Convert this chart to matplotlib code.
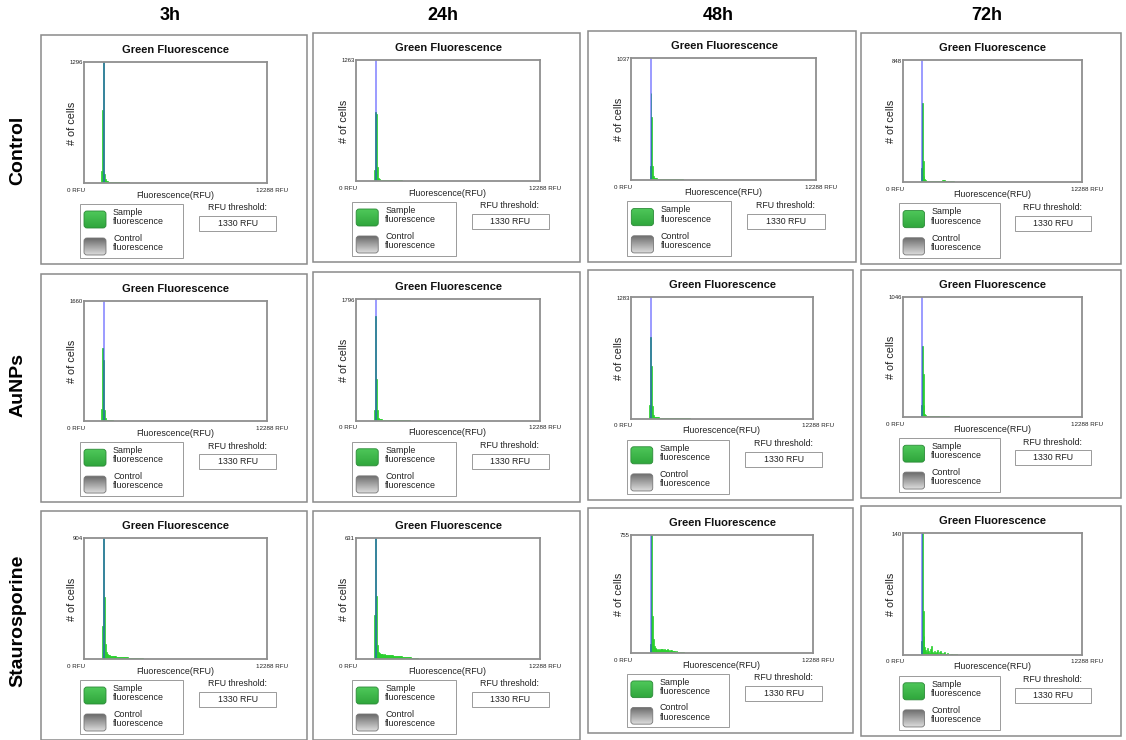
import numpy as np
import matplotlib
matplotlib.use('Agg')
import matplotlib.pyplot as plt
from matplotlib.patches import Rectangle, FancyBboxPatch
from matplotlib import colors as mcolors

plt.rcParams['font.family'] = ['Liberation Sans', 'DejaVu Sans']

# ---------------- data ----------------
timepoints = ['3h', '24h', '48h', '72h']
treatments = ['Control', 'AuNPs', 'Staurosporine']
y_max_counts = [[1296, 1263, 1037, 848],
                [1660, 1796, 1283, 1046],
                [904, 631, 755, 140]]
threshold_rfu = 1330
x_max_rfu = 12288
bin_start_rfu = 1088
bin_width_rfu = 64

control_3h = [0, 130, 780, 1296, 100, 42, 24, 18, 15, 14, 13, 12, 12, 11, 11, 10, 10, 10, 9, 9, 9, 8, 8, 8, 7, 7, 7, 6, 6, 6, 5, 5, 5, 5, 4, 4, 4, 4, 3, 3, 3, 3, 2, 2, 2, 2, 1, 1]
control_24h = [0, 0, 120, 720, 700, 150, 32, 18, 14, 13, 12, 12, 11, 11, 10, 10, 10, 9, 9, 9, 8, 8, 8, 7, 7, 7, 7, 6, 6, 6, 6, 5, 5, 5, 5, 4, 4, 4, 4, 3, 3, 3, 3, 2, 2, 2, 2, 1, 1, 1]
control_48h = [0, 0, 120, 740, 540, 125, 35, 22, 18, 16, 15, 14, 14, 13, 13, 12, 12, 12, 11, 11, 11, 10, 10, 10, 10, 9, 9, 9, 9, 8, 8, 8, 8, 7, 7, 7, 7, 6, 6, 6, 6, 5, 5, 5, 5, 4, 4, 4, 3, 3, 3, 2, 2, 2, 1, 1]
control_72h = [0, 0, 100, 550, 150, 45, 20, 14, 12, 11, 10, 10, 10, 9, 9, 10, 11, 12, 11, 10, 10, 9, 9, 10, 12, 14, 15, 13, 12, 10, 9, 8, 8, 9, 8, 7, 6, 6, 5, 5, 5, 4, 4, 4, 3, 3, 3, 2, 2, 2, 1, 1]
aunps_3h = [0, 170, 1010, 850, 150, 40, 22, 17, 15, 14, 13, 12, 12, 11, 11, 10, 10, 9, 9, 9, 8, 8, 8, 7, 7, 7, 6, 6, 6, 5, 5, 5, 4, 4, 4, 3, 3, 3, 2, 2, 2, 1, 1]
aunps_24h = [0, 0, 160, 1540, 620, 160, 38, 24, 19, 17, 16, 15, 14, 13, 13, 12, 12, 11, 11, 10, 10, 9, 9, 9, 8, 8, 8, 7, 7, 6, 6, 6, 5, 5, 4, 4, 4, 3, 3, 2, 2, 2, 1, 1]
aunps_48h = [0, 0, 140, 860, 560, 130, 35, 22, 17, 15, 14, 13, 13, 12, 12, 11, 11, 11, 10, 10, 10, 9, 9, 9, 8, 8, 8, 7, 7, 7, 6, 6, 6, 5, 5, 5, 4, 4, 4, 3, 3, 3, 2, 2, 2, 1, 1]
aunps_72h = [0, 0, 110, 620, 380, 110, 30, 18, 14, 13, 12, 12, 11, 11, 11, 10, 10, 11, 12, 13, 12, 11, 10, 10, 9, 9, 10, 11, 10, 9, 8, 8, 7, 7, 6, 6, 5, 5, 4, 4, 3, 3, 3, 2, 2, 2, 1, 1]
stauro_3h = [0, 0, 250, 904, 460, 110, 55, 38, 32, 28, 26, 24, 22, 21, 20, 20, 19, 18, 18, 17, 16, 16, 15, 15, 14, 14, 13, 12, 12, 11, 11, 10, 10, 9, 9, 8, 8, 7, 7, 6, 6, 5, 5, 4, 4, 3, 3, 2, 2, 1]
stauro_24h = [0, 0, 230, 631, 330, 75, 38, 30, 27, 25, 24, 23, 24, 22, 22, 21, 22, 20, 20, 19, 20, 18, 18, 17, 17, 16, 16, 15, 15, 14, 14, 13, 12, 12, 11, 10, 10, 9, 8, 8, 7, 6, 6, 5, 4, 4, 3, 3, 2, 2, 1, 1]
stauro_48h = [0, 0, 0, 60, 755, 235, 90, 50, 32, 26, 30, 24, 28, 22, 27, 25, 30, 22, 26, 20, 24, 28, 22, 18, 24, 20, 16, 18, 14, 15, 12, 13, 10, 11, 8, 9, 7, 6, 6, 5, 4, 4, 3, 2, 2, 1, 1]
stauro_72h = [0, 0, 16, 140, 50, 21, 9, 5, 3, 8, 4, 2, 6, 10, 3, 2, 4, 2, 3, 5, 2, 1, 3, 4, 2, 1, 2, 3, 1, 1, 2, 1, 0, 1, 0, 1, 1, 0, 1, 0, 1]

hist_counts = [[control_3h, control_24h, control_48h, control_72h],
               [aunps_3h, aunps_24h, aunps_48h, aunps_72h],
               [stauro_3h, stauro_24h, stauro_48h, stauro_72h]]

# ---------------- layout ----------------
W, H = 1126, 740
panel_boxes = [[(41, 35, 307, 264), (313, 33, 580, 262), (588, 31, 856, 262), (861, 33, 1121, 264)],
               [(41, 274, 307, 502), (313, 272, 580, 502), (588, 270, 853, 500), (861, 270, 1121, 498)],
               [(41, 511, 307, 740), (313, 511, 580, 740), (588, 508, 853, 733), (861, 506, 1121, 736)]]
REF_W, REF_H = 266.0, 229.0

GREEN = '#26cf2a'
FRAME = '#8a8a8a'

fig = plt.figure(figsize=(W / 100, H / 100), dpi=100)
ov = fig.add_axes([0, 0, 1, 1], zorder=0)
ov.set_xlim(0, W)
ov.set_ylim(H, 0)
ov.axis('off')


def swatch(x, y, w, h, top, bottom, edge):
    patch = FancyBboxPatch((x, y), w, h, boxstyle='round,pad=0,rounding_size=3',
                           fc='none', ec=edge, lw=0.6, zorder=4)
    ov.add_patch(patch)
    t = np.linspace(0, 1, 40)[:, None, None]
    c0 = np.array(mcolors.to_rgb(top))[None, None, :]
    c1 = np.array(mcolors.to_rgb(bottom))[None, None, :]
    img = c0 * (1 - t) + c1 * t
    im = ov.imshow(img, extent=[x, x + w, y + h, y], aspect='auto', zorder=3,
                   interpolation='bilinear')
    im.set_clip_path(patch)


for r in range(3):
    for c in range(4):
        x0, y0, x1, y1 = panel_boxes[r][c]
        sx = (x1 - x0) / REF_W
        sy = (y1 - y0) / REF_H

        def P(dx, dy):
            return x0 + dx * sx, y0 + dy * sy

        ov.add_patch(Rectangle((x0, y0), x1 - x0, y1 - y0, fc='white', ec=FRAME, lw=1.1, zorder=1))
        tx, ty = P(135, 15)
        ov.text(tx, ty, 'Green Fluorescence', ha='center', va='center', fontsize=8,
                fontweight='bold', color='#111111', zorder=5)

        # histogram axes
        lx, ty_ax = P(43, 27)
        rx, by = P(226, 148)
        ax = fig.add_axes([lx / W, 1 - by / H, (rx - lx) / W, (by - ty_ax) / H], zorder=2)
        counts = hist_counts[r][c]
        edges = bin_start_rfu + bin_width_rfu * np.arange(len(counts))
        ax.bar(edges, counts, width=bin_width_rfu, align='edge', color=GREEN,
               edgecolor=GREEN, linewidth=0.5)
        ax.axvline(threshold_rfu, color='#2b2bff', alpha=0.6, lw=1.1)
        ax.set_xlim(0, x_max_rfu)
        ax.set_ylim(0, y_max_counts[r][c])
        ax.set_xticks([])
        ax.set_yticks([])
        for s in ax.spines.values():
            s.set_color('#8f8f8f')
            s.set_linewidth(1.3)

        # axis texts
        px, py = P(42, 28)
        ov.text(px, py, str(y_max_counts[r][c]), ha='right', va='center', fontsize=4.3, color='#222222')
        px, py = P(35, 155)
        ov.text(px, py, '0 RFU', ha='center', va='center', fontsize=4.5, color='#222222')
        px, py = P(231, 155)
        ov.text(px, py, f'{x_max_rfu} RFU', ha='center', va='center', fontsize=4.5, color='#222222')
        px, py = P(134, 160)
        ov.text(px, py, 'Fluorescence(RFU)', ha='center', va='center', fontsize=6.4, color='#222222')
        px, py = P(31, 88)
        ov.text(px, py, '# of cells', ha='center', va='center', rotation=90, fontsize=7.8, color='#222222')

        # legend box
        lbx0, lby0 = P(39, 169)
        lbx1, lby1 = P(142, 223)
        ov.add_patch(Rectangle((lbx0, lby0), lbx1 - lbx0, lby1 - lby0, fc='white', ec='#9a9a9a', lw=0.7, zorder=2))
        gx0, gy0 = P(43, 176)
        gx1, gy1 = P(65, 193)
        swatch(gx0, gy0, gx1 - gx0, gy1 - gy0, '#4fc85a', '#2fa63c', '#2b8a37')
        gx0, gy0 = P(43, 203)
        gx1, gy1 = P(65, 220)
        swatch(gx0, gy0, gx1 - gx0, gy1 - gy0, '#6a6a6a', '#dcdcdc', '#777777')
        px, py = P(72, 182)
        ov.text(px, py, 'Sample\nfluorescence', ha='left', va='center', fontsize=6.4,
                color='#222222', linespacing=1.05, zorder=5)
        px, py = P(72, 208)
        ov.text(px, py, 'Control\nfluorescence', ha='left', va='center', fontsize=6.4,
                color='#222222', linespacing=1.05, zorder=5)

        # threshold
        px, py = P(196, 173)
        ov.text(px, py, 'RFU threshold:', ha='center', va='center', fontsize=6.3, color='#222222', zorder=5)
        bx0, by0 = P(158, 181)
        bx1, by1 = P(235, 196)
        ov.add_patch(Rectangle((bx0, by0), bx1 - bx0, by1 - by0, fc='white', ec='#9a9a9a', lw=0.7, zorder=2))
        ov.text((bx0 + bx1) / 2, (by0 + by1) / 2, f'{threshold_rfu} RFU', ha='center', va='center',
                fontsize=6.3, color='#222222', zorder=5)

# column headers
for c, tp in enumerate(timepoints):
    x0, y0, x1, y1 = panel_boxes[0][c]
    ov.text((x0 + x1) / 2 - 4, 15, tp, ha='center', va='center', fontsize=13, fontweight='bold',
            family=['Liberation Sans Narrow', 'Liberation Sans'], color='black')

# row labels
row_centers = [150, 385, 621]
for r, tr in enumerate(treatments):
    ov.text(18, row_centers[r], tr, ha='center', va='center', rotation=90, fontsize=14,
            fontweight='bold', color='black')

ov.set_xlim(0, W)
ov.set_ylim(H, 0)
fig.savefig('out.png', dpi=100)
